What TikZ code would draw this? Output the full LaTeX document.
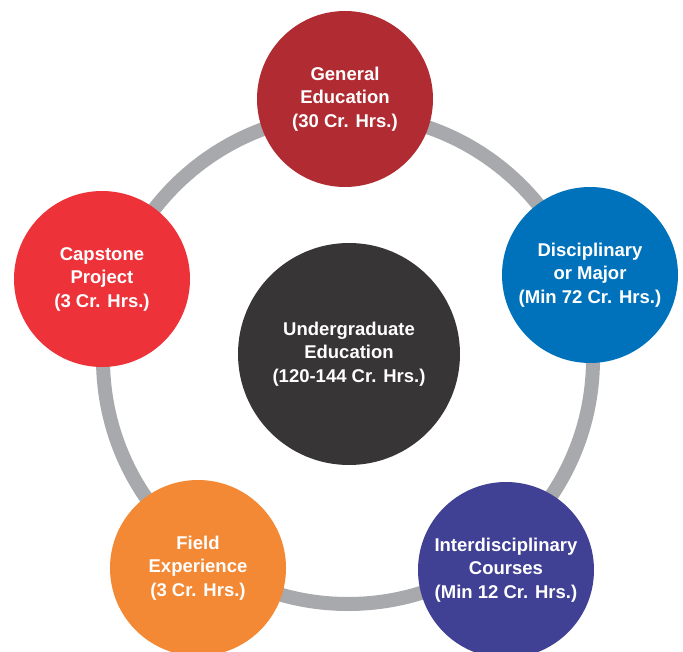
\documentclass[tikz,border=0pt]{standalone}
\usepackage{fontspec}
\setmainfont{Liberation Sans}
\definecolor{ringgray}{HTML}{A7A9AC}
\definecolor{genred}{HTML}{B02C32}
\definecolor{discblue}{HTML}{0072BC}
\definecolor{interblue}{HTML}{404094}
\definecolor{fieldorange}{HTML}{F38934}
\definecolor{capred}{HTML}{ED3239}
\definecolor{centergray}{HTML}{373536}
\tikzset{
  px/.style={x=1pt,y=-1pt},
  bubble/.style={circle, inner sep=0pt, minimum size=176pt, text=white, align=center,
    font=\fontsize{18.5}{23.5}\selectfont\bfseries},
  hub/.style={bubble, minimum size=222pt, fill=centergray},
  ring/.style={draw=ringgray, line width=14pt}
}
\begin{document}
\begin{tikzpicture}[px]
\useasboundingbox (0,0) rectangle (683,652);
\clip (0,0) rectangle (683,652);
\coordinate (rc) at (348,359);
\draw[ring] (rc) circle[radius=245pt];
\node[hub] (center) at (349,354) {Undergraduate\\Education\\(120-144 Cr. Hrs.)};
\node[bubble, fill=genred] (gen) at (345,99) {General\\Education\\(30 Cr. Hrs.)};
\node[bubble, fill=discblue] (disc) at (590,275) {Disciplinary\\or Major\\(Min 72 Cr. Hrs.)};
\node[bubble, fill=interblue] (inter) at (506,570) {Interdisciplinary\\Courses\\(Min 12 Cr. Hrs.)};
\node[bubble, fill=fieldorange] (field) at (198,568) {Field\\Experience\\(3 Cr. Hrs.)};
\node[bubble, fill=capred] (cap) at (102,279) {Capstone\\Project\\(3 Cr. Hrs.)};
\end{tikzpicture}
\end{document}
